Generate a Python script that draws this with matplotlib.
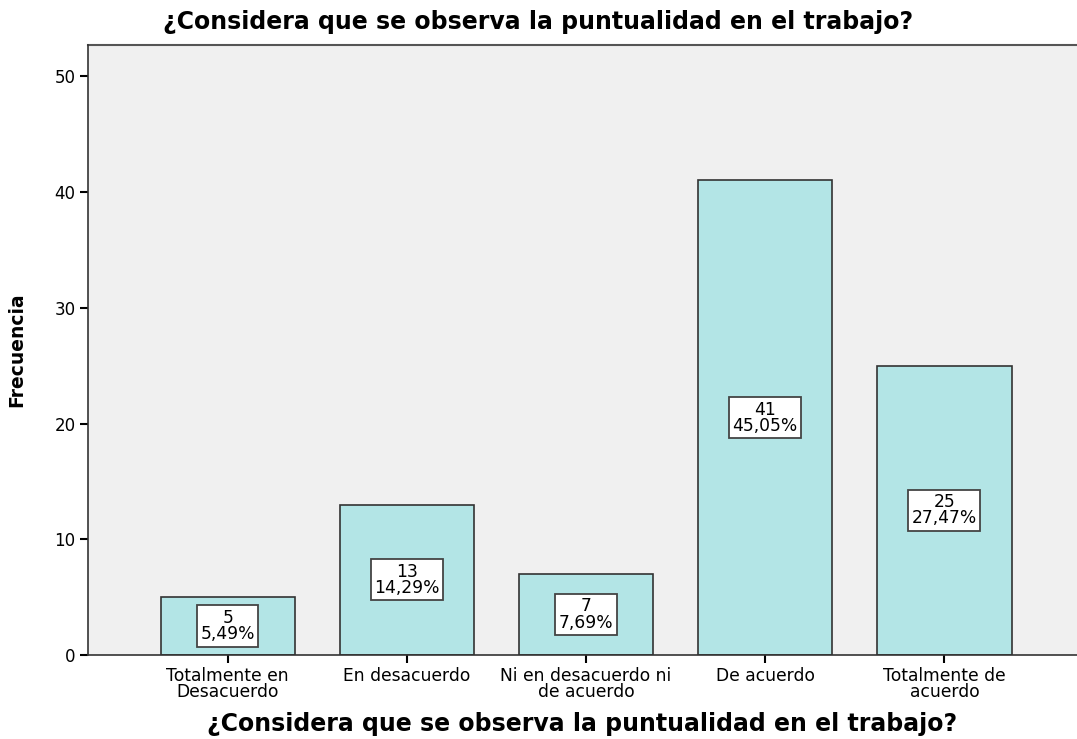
import matplotlib.pyplot as plt
import numpy as np

categorias = ['Totalmente en\nDesacuerdo', 'En desacuerdo', 'Ni en desacuerdo ni\nde acuerdo',
              'De acuerdo', 'Totalmente de\nacuerdo']
frecuencias = [5, 13, 7, 41, 25]
porcentajes = ['5,49%', '14,29%', '7,69%', '45,05%', '27,47%']
titulo = '¿Considera que se observa la puntualidad en el trabajo?'

plt.rcParams['font.family'] = 'DejaVu Sans'

fig = plt.figure(figsize=(10.77, 7.39), dpi=100)
ax = fig.add_axes([0.0817, 0.1137, 0.9183, 0.8253])
ax.set_facecolor('#F0F0F0')

x = np.arange(len(categorias))
ax.bar(x, frecuencias, width=0.75, color='#B3E5E6', edgecolor='#333333', linewidth=1.2, zorder=2)

for xi, f, p in zip(x, frecuencias, porcentajes):
    ax.text(xi, f / 2, '%d\n%s' % (f, p), ha='center', va='center', fontsize=12.3,
            linespacing=0.88, zorder=3,
            bbox=dict(boxstyle='square,pad=0.2', facecolor='white', edgecolor='#444444', linewidth=1.3))

ax.set_xlim(-0.78, 4.74)
ax.set_ylim(0, 52.7)
ax.set_yticks([0, 10, 20, 30, 40, 50])
ax.set_xticks(x)
ax.set_xticklabels(categorias, fontsize=12.3, linespacing=0.85)
ax.tick_params(axis='y', labelsize=12, length=6, width=1.5, pad=3)
ax.tick_params(axis='x', length=6, width=1.5, pad=3)

for s in ['top', 'right']:
    ax.spines[s].set_visible(False)
ax.spines['left'].set_linewidth(1.2)
ax.spines['bottom'].set_linewidth(1.2)
ax.spines['left'].set_color('#333333')
ax.spines['bottom'].set_color('#333333')
ax.plot([-0.78, 4.74], [52.7, 52.7], color='#555555', linewidth=1.5, clip_on=False)

ax.set_ylabel('Frecuencia', fontsize=13.5, fontweight='bold', labelpad=20)
ax.set_xlabel(titulo, fontsize=17, fontweight='bold', labelpad=8)
fig.text(0.5, 0.97, titulo, ha='center', va='center', fontsize=17, fontweight='bold')

fig.savefig('out.png', dpi=100)
